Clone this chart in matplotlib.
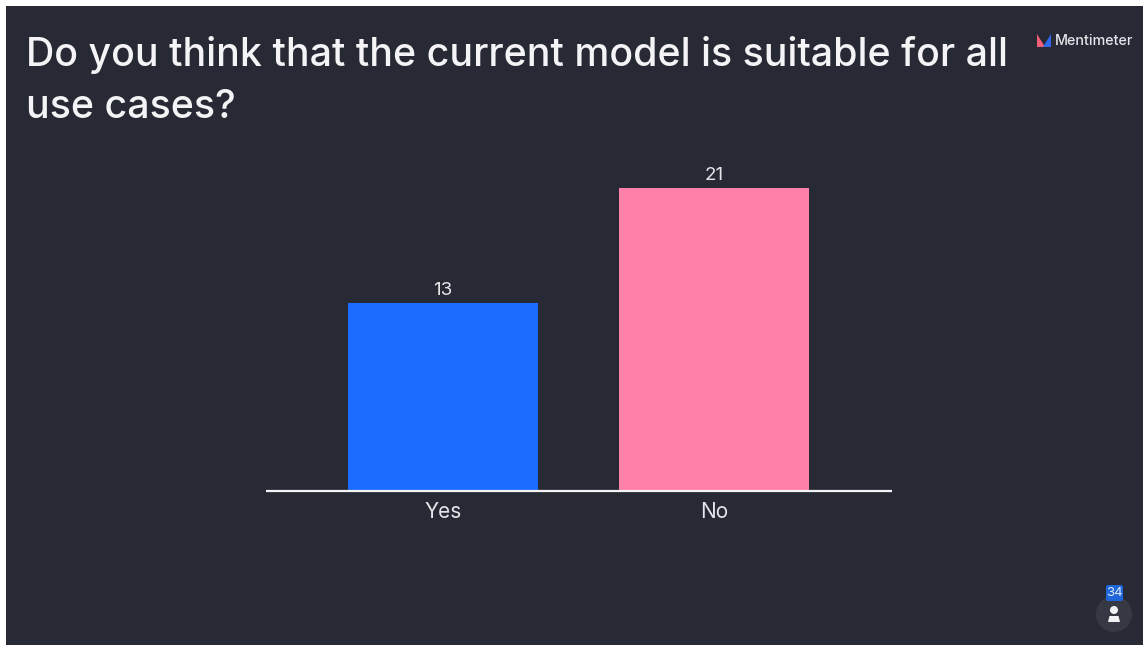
import matplotlib.pyplot as plt
from matplotlib.patches import Circle, FancyBboxPatch, Rectangle, Polygon

W, H = 1143, 645

# Values
categories = ['Yes', 'No']
votes = [13, 21]
bar_colors = ['#196cff', '#ff80a8']
respondents = 34

bg = '#272a35'
plt.rcParams['font.family'] = ['Inter', 'DejaVu Sans']

fig = plt.figure(figsize=(W / 100, H / 100), dpi=100, facecolor='white')

# Slide background and overlays, drawn in pixel coordinates
page = fig.add_axes([0, 0, 1, 1])
page.set_xlim(0, W)
page.set_ylim(H, 0)
page.axis('off')
page.add_patch(Rectangle((6, 6), W - 6, H - 6, color=bg, lw=0))

page.text(26, 66, 'Do you think that the current model is suitable for all',
          color='#f4f4f6', fontsize=28.3, fontweight='medium', va='baseline', ha='left')
page.text(26, 118.5, 'use cases?', color='#f4f4f6', fontsize=28.3, fontweight='medium',
          va='baseline', ha='left')

# Mentimeter logo
page.add_patch(Polygon([(1037, 47), (1037, 34), (1045, 47)], color='#ef5f78', lw=0))
page.add_patch(Polygon([(1051, 34), (1051, 47), (1043, 47)], color='#2f68e8', lw=0))
page.text(1055, 41, 'Mentimeter', color='#e4e5ea', fontsize=10.3, fontweight='medium',
          va='center', ha='left')

# Respondent badge
page.add_patch(Circle((1114, 614), 18, color='#363944', lw=0))
page.add_patch(FancyBboxPatch((1106, 585), 17, 16, boxstyle='round,pad=0,rounding_size=2',
                              color='#1f66d8', lw=0))
page.text(1114.5, 593, str(respondents), color='#dfe8fa', fontsize=9.5, va='center', ha='center')
page.add_patch(Circle((1114, 610), 4, color='#f2f2f4', lw=0))
page.add_patch(Polygon([(1108, 622), (1109.5, 616), (1118.5, 616), (1120, 622)],
                       color='#f2f2f4', lw=0))

# Bars
x0, x1, y_base, y_top = 266, 892, 491, 150
ax = fig.add_axes([x0 / W, 1 - y_base / H, (x1 - x0) / W, (y_base - y_top) / H])
ax.patch.set_alpha(0)
positions = range(len(categories))
bars = ax.bar(positions, votes, width=0.701, color=bar_colors)
ax.set_xlim(-0.653, 1.657)
ax.set_ylim(0, (y_base - y_top) / 14.44)
ax.bar_label(bars, labels=[str(v) for v in votes], padding=3, color='#e6e6ea', fontsize=13.5)
ax.set_xticks(list(positions), categories)
ax.set_yticks([])
ax.tick_params(axis='x', length=0, pad=8, colors='#e6e6ea', labelsize=15)
for side in ['top', 'left', 'right']:
    ax.spines[side].set_visible(False)
ax.spines['bottom'].set_color('#f4f4f6')
ax.spines['bottom'].set_linewidth(1.6)
ax.spines['bottom'].set_capstyle('butt')

fig.savefig('out.png', dpi=100, facecolor=fig.get_facecolor())
